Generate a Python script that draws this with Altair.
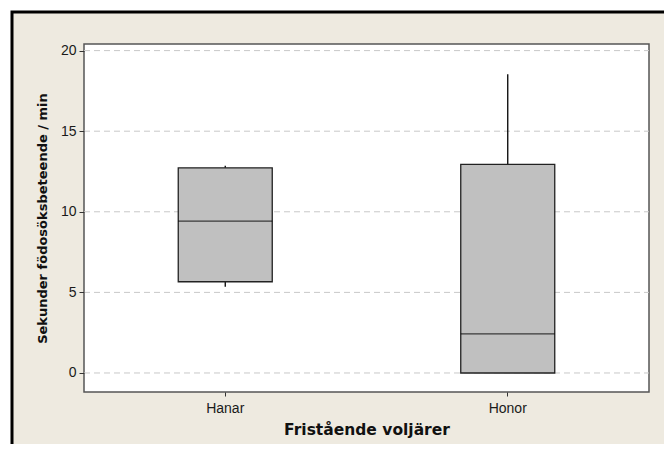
import altair as alt
import pandas as pd

groups = ["Hanar", "Honor"]
whisker_low = [5.35, 0.0]
q1 = [5.66, 0.0]
median = [9.42, 2.42]
q3 = [12.73, 12.94]
whisker_high = [12.85, 18.54]
y_ticks = [0, 5, 10, 15, 20]

W, H = 565, 348
LFONT = "Liberation Sans"
TFONT = "DejaVu Sans"

df = pd.DataFrame({"group": groups, "lo": whisker_low, "q1": q1,
                   "med": median, "q3": q3, "hi": whisker_high})
grid_df = pd.DataFrame({"y": y_ticks})
one = pd.DataFrame({"a": [0]})

xsc = alt.Scale(domain=groups, paddingInner=0, paddingOuter=0)
ysc = alt.Scale(domain=[-1.18, 20.41], nice=False, zero=False)

xax = alt.Axis(title="Fristående voljärer", labelAngle=0, labelFont=LFONT, labelFontSize=14,
               labelColor="#1a1a1a", titleFont=TFONT, titleFontSize=15.5, titleFontWeight="bold",
               titleColor="#111", tickSize=4, tickColor="#333", domain=False, grid=False,
               labelPadding=5, titlePadding=7, zindex=2)
yax = alt.Axis(title="Sekunder födosöksbeteende / min", values=y_ticks, labelFont=LFONT,
               labelFontSize=14, labelColor="#1a1a1a", titleFont=TFONT, titleFontSize=13,
               titleFontWeight="bold", titleColor="#111", tickSize=5, tickColor="#333",
               domain=False, grid=False, labelPadding=3, titlePadding=11, zindex=2)

outer = alt.Chart(one).mark_rect(fill="#eeeae0", stroke="black", strokeWidth=3).encode(
    x=alt.value(-72), x2=alt.value(W + 60), y=alt.value(-32), y2=alt.value(H + 80))
inner = alt.Chart(one).mark_rect(fill="white", stroke="#555", strokeWidth=1.5).encode(
    x=alt.value(0), x2=alt.value(W), y=alt.value(0), y2=alt.value(H))
grid = alt.Chart(grid_df).mark_rule(color="#c8c8c8", strokeDash=[6, 4], strokeWidth=1).encode(
    y=alt.Y("y:Q", scale=ysc, axis=yax), x=alt.value(0), x2=alt.value(W))
whisk = alt.Chart(df).mark_rule(color="black", strokeWidth=1.3).encode(
    x=alt.X("group:N", scale=xsc, axis=xax, sort=groups),
    y=alt.Y("lo:Q", scale=ysc), y2="hi:Q")
box = alt.Chart(df).mark_bar(size=94, fill="#c0c0c0", stroke="#222", strokeWidth=1.3).encode(
    x=alt.X("group:N", scale=xsc, sort=groups),
    y=alt.Y("q1:Q", scale=ysc), y2="q3:Q")
med = alt.Chart(df).mark_tick(size=94, thickness=1.3, color="black", orient="horizontal").encode(
    x=alt.X("group:N", scale=xsc, sort=groups),
    y=alt.Y("med:Q", scale=ysc))

chart = alt.layer(outer, inner, grid, whisk, box, med).properties(
    width=W, height=H,
    autosize=alt.AutoSizeParams(type="none"),
    padding={"left": 76, "top": 36, "right": 15, "bottom": 52},
    background="white",
).configure_view(stroke=None)

chart.save("out.html", embed_options={"renderer": "svg", "actions": False})
